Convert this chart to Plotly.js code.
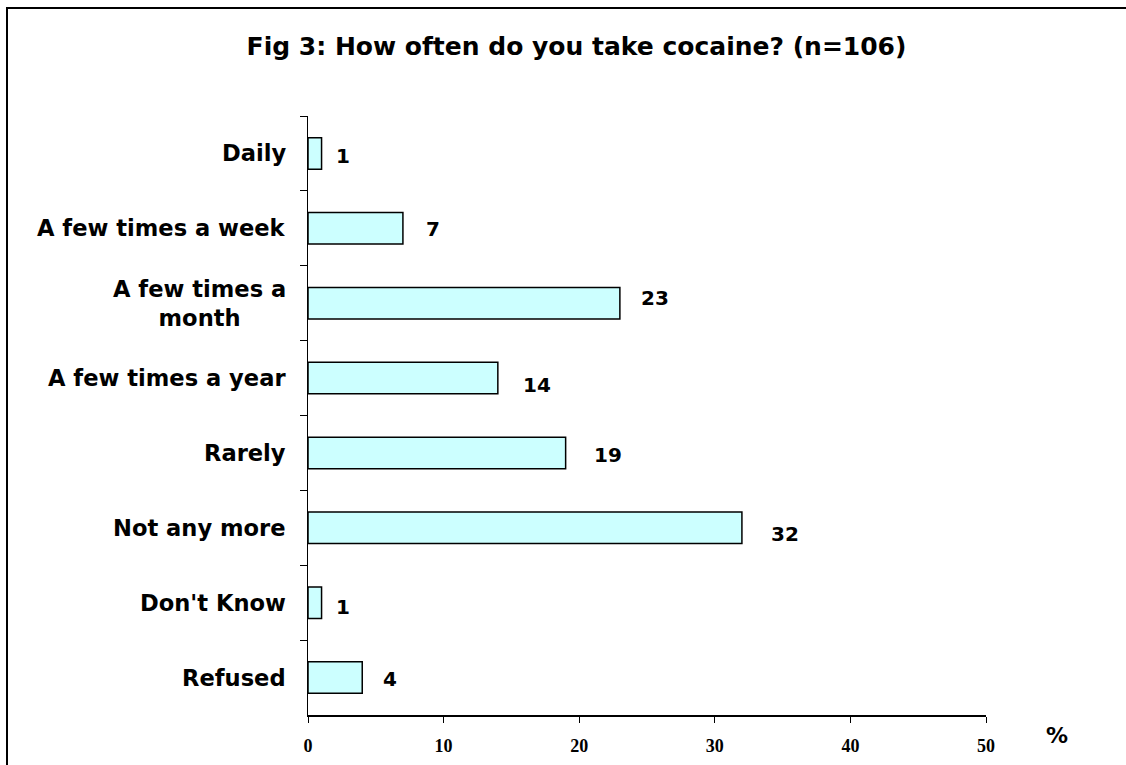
<!DOCTYPE html>
<html>
<head>
<meta charset="utf-8">
<script src="https://cdn.plot.ly/plotly-3.0.1.min.js"></script>
<style>
  html, body { margin: 0; padding: 0; background: #fff; }
  #wrap { position: relative; width: 1126px; height: 765px; overflow: hidden; }
  #chart { width: 1126px; height: 765px; }
  #frame { position: absolute; left: 6px; top: 7px; width: 1200px; height: 800px;
           border-left: 2px solid #000; border-top: 2px solid #000; pointer-events: none; }
</style>
</head>
<body>
<div id="wrap">
  <div id="chart"></div>
  <div id="frame"></div>
</div>
<script>
// ---- data ----
const categories = ["Daily", "A few times a week", "A few times a<br>month", "A few times a year",
                    "Rarely", "Not any more", "Don't Know", "Refused"];
const percentages = [1, 7, 23, 14, 19, 32, 1, 4];
const xTickValues = [0, 10, 20, 30, 40, 50];
const xTickLabels = ["0", "10", "20", "30", "40", "50"];
const chartTitle = "Fig 3: How often do you take cocaine? (n=106)";
const unitLabel = "%";

// ---- label placement offsets (style only) ----
const labelXShift = [21, 30, 35, 39, 42, 43, 21, 28];
const labelYShift = [-2.5, -1, 5.5, -6.5, -2, -6.5, -4, -1.5];

const sansBold = "DejaVu Sans";
const annotations = [];

percentages.forEach((v, i) => {
  annotations.push({
    x: v, y: categories[i], xref: "x", yref: "y",
    text: "<b>" + v + "</b>", showarrow: false,
    xanchor: "center", yanchor: "middle",
    xshift: labelXShift[i], yshift: labelYShift[i],
    font: { family: sansBold, size: 20, color: "#000" }
  });
  annotations.push({
    x: 0, y: categories[i], xref: "paper", yref: "y",
    text: "<b>" + categories[i] + "</b>", showarrow: false,
    xanchor: "right", yanchor: "middle", align: "center",
    xshift: -20,
    font: { family: sansBold, size: 22.6, color: "#000" }
  });
});

annotations.push({
  x: 1.105, y: -0.034, xref: "paper", yref: "paper",
  text: "<b>" + unitLabel + "</b>", showarrow: false,
  xanchor: "center", yanchor: "middle",
  font: { family: sansBold, size: 22, color: "#000" }
});

const trace = {
  type: "bar",
  orientation: "h",
  x: percentages,
  y: categories,
  width: 0.42,
  marker: { color: "#CCFFFF", line: { color: "#000", width: 1.5 } },
  hoverinfo: "x+y"
};

const layout = {
  width: 1126, height: 765,
  margin: { l: 308, r: 140, t: 115.5, b: 49.5 },
  paper_bgcolor: "#fff", plot_bgcolor: "#fff",
  showlegend: false,
  title: {
    text: "<b>" + chartTitle + "</b>",
    x: 0.512, xref: "container", xanchor: "center",
    y: 0.939, yref: "container", yanchor: "middle",
    font: { family: sansBold, size: 25, color: "#000" }
  },
  xaxis: {
    range: [0, 50],
    tickvals: xTickValues, ticktext: xTickLabels,
    ticks: "outside", ticklen: 6, tickwidth: 1, tickcolor: "#000",
    ticklabelstandoff: 7,
    showline: true, linecolor: "#000", linewidth: 2,
    showgrid: false, zeroline: false,
    tickfont: { family: "Liberation Serif", size: 18, color: "#000", weight: "bold" },
    fixedrange: true
  },
  yaxis: {
    type: "category",
    categoryorder: "array", categoryarray: categories,
    range: [7.5, -0.5],
    tickson: "boundaries",
    ticks: "outside", ticklen: 7, tickwidth: 1, tickcolor: "#000",
    showticklabels: false,
    showline: true, linecolor: "#000", linewidth: 1.5,
    showgrid: false, zeroline: false,
    fixedrange: true
  },
  annotations: annotations
};

Plotly.newPlot("chart", [trace], layout, { displayModeBar: false, staticPlot: true });
</script>
</body>
</html>
